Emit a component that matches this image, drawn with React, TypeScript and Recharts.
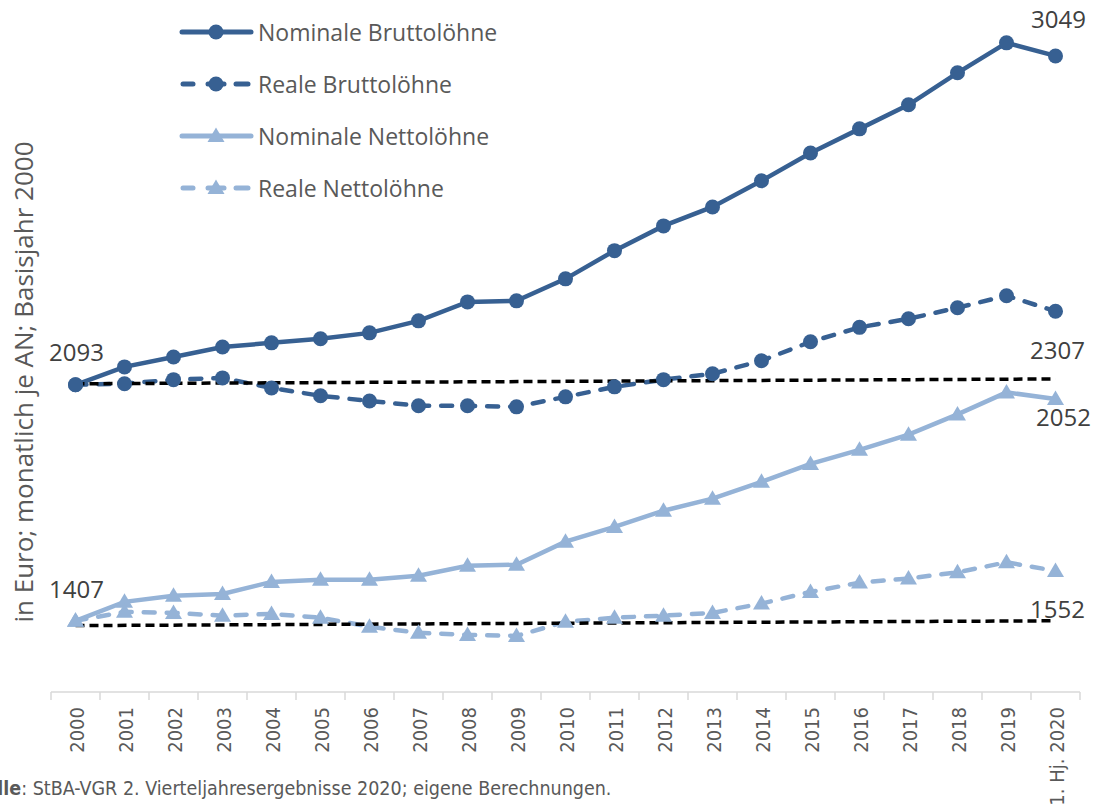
import React from 'react';
import { LineChart, Line, XAxis, YAxis, Legend, LabelList } from 'recharts';

// ---------- data ----------
const categories = [
  '2000', '2001', '2002', '2003', '2004', '2005', '2006', '2007', '2008', '2009',
  '2010', '2011', '2012', '2013', '2014', '2015', '2016', '2017', '2018', '2019', '1. Hj. 2020',
];
const nominaleBrutto = [2093, 2145, 2174, 2203, 2215, 2227, 2244, 2279, 2334, 2337, 2401, 2483, 2555, 2610, 2686, 2767, 2837, 2907, 3000, 3087, 3049];
const realeBrutto = [2093, 2096, 2108, 2113, 2084, 2061, 2046, 2032, 2032, 2029, 2058, 2087, 2108, 2125, 2163, 2218, 2260, 2285, 2317, 2352, 2307];
const nominaleNetto = [1407, 1462, 1480, 1485, 1520, 1526, 1526, 1538, 1567, 1570, 1637, 1680, 1727, 1762, 1811, 1863, 1904, 1948, 2007, 2071, 2052];
const realeNetto = [1407, 1433, 1430, 1422, 1427, 1416, 1390, 1372, 1366, 1363, 1404, 1416, 1422, 1430, 1457, 1491, 1518, 1530, 1548, 1577, 1552];
// black dashed reference levels (start, end)
const basisBrutto = [2096, 2110];
const basisNetto = [1393, 1407];

const seriesNames = {
  nominaleBrutto: 'Nominale Bruttolöhne',
  realeBrutto: 'Reale Bruttolöhne',
  nominaleNetto: 'Nominale Nettolöhne',
  realeNetto: 'Reale Nettolöhne',
};
const yAxisTitle = 'in Euro; monatlich je AN; Basisjahr 2000';
const sourcePrefix = 'Quelle';
const sourceText = ': StBA-VGR 2. Vierteljahresergebnisse 2020; eigene Berechnungen.';

const last = categories.length - 1;
const data = categories.map((cat, i) => ({
  cat,
  nominaleBrutto: nominaleBrutto[i],
  realeBrutto: realeBrutto[i],
  nominaleNetto: nominaleNetto[i],
  realeNetto: realeNetto[i],
  basisBrutto: i === 0 ? basisBrutto[0] : i === last ? basisBrutto[1] : null,
  basisNetto: i === 0 ? basisNetto[0] : i === last ? basisNetto[1] : null,
}));

// ---------- styles ----------
const W = 1095;
const H = 810;
const MARGIN = { top: 4, right: 15, left: 51, bottom: 0 };
const BAND = (W - MARGIN.left - MARGIN.right) / categories.length;
const DARK = '#376092';
const LIGHT = '#95B3D7';
const FONT = '"Open Sans", "Noto Sans", sans-serif';
const NARROW = '"Liberation Sans Narrow", "DejaVu Sans Condensed", "Open Sans", sans-serif';
const TEXT = '#595959';
const LABEL = '#404040';
const DASH = '11 12';

const CircleDot = (props: any) => {
  const { cx, cy, index } = props;
  if (cx == null || cy == null) return <g key={`c-${index}`} />;
  return <circle key={`c-${index}`} cx={cx} cy={cy} r={7.5} fill={DARK} stroke="none" />;
};
const TriangleDot = (props: any) => {
  const { cx, cy, index } = props;
  if (cx == null || cy == null) return <g key={`t-${index}`} />;
  return (
    <path
      key={`t-${index}`}
      d={`M${cx},${cy - 8.5} L${cx + 8.5},${cy + 6} L${cx - 8.5},${cy + 6} Z`}
      fill={LIGHT}
      stroke="none"
    />
  );
};

const XTick = (props: any) => {
  const { x, y, payload, index } = props;
  const half = BAND / 2;
  return (
    <g>
      <line x1={x - half} x2={x - half} y1={y} y2={y + 8} stroke="#d9d9d9" strokeWidth={1.5} />
      {index === categories.length - 1 && (
        <line x1={x + half} x2={x + half} y1={y} y2={y + 8} stroke="#d9d9d9" strokeWidth={1.5} />
      )}
      <text
        transform={`translate(${x + 1},${y + 15}) rotate(-90)`}
        textAnchor="end"
        dy="0.35em"
        fontSize={20}
        fontFamily={NARROW}
        fill={TEXT}
      >
        {payload.value}
      </text>
    </g>
  );
};

// label placement per series: index -> offset of label centre from point
const makeLabel = (spots: Record<number, [number, number]>) => (props: any) => {
  const { x, y, value, index } = props;
  const s = spots[index];
  if (!s || x == null || y == null) return null;
  return (
    <text
      x={x + s[0]}
      y={y + s[1]}
      textAnchor="middle"
      dominantBaseline="central"
      fontSize={24}
      fontFamily={FONT}
      fill={LABEL}
    >
      {value}
    </text>
  );
};

const legendItems = [
  { key: 'nominaleBrutto', color: DARK, dashed: false, shape: 'circle' },
  { key: 'realeBrutto', color: DARK, dashed: true, shape: 'circle' },
  { key: 'nominaleNetto', color: LIGHT, dashed: false, shape: 'triangle' },
  { key: 'realeNetto', color: LIGHT, dashed: true, shape: 'triangle' },
];

const LegendContent = () => (
  <svg width={340} height={215} style={{ overflow: 'visible', display: 'block' }}>
    {legendItems.map((it, i) => {
      const cy = 32 + i * 52;
      const mx = 38;
      return (
        <g key={it.key}>
          {it.dashed ? (
            <g stroke={it.color} strokeWidth={5} strokeLinecap="round">
              <line x1={5} x2={15} y1={cy} y2={cy} />
              <line x1={58} x2={70} y1={cy} y2={cy} />
              <line x1={30} x2={46} y1={cy} y2={cy} />
            </g>
          ) : (
            <line x1={4} x2={73} y1={cy} y2={cy} stroke={it.color} strokeWidth={5} strokeLinecap="round" />
          )}
          {it.shape === 'circle' ? (
            <circle cx={mx} cy={cy} r={7.5} fill={it.color} />
          ) : (
            <path d={`M${mx},${cy - 8.5} L${mx + 8.5},${cy + 6} L${mx - 8.5},${cy + 6} Z`} fill={it.color} />
          )}
          <text x={80} y={cy} dominantBaseline="central" fontSize={23} fontFamily={FONT} fill={TEXT}>
            {(seriesNames as any)[it.key]}
          </text>
        </g>
      );
    })}
  </svg>
);

export default function App() {
  return (
    <div
      style={{
        position: 'absolute',
        left: 0,
        top: 0,
        width: W,
        height: H,
        overflow: 'hidden',
        background: '#fff',
        fontFamily: FONT,
      }}
    >
      <LineChart width={W} height={H} data={data} margin={MARGIN}>
        <XAxis
          dataKey="cat"
          scale="band"
          interval={0}
          height={118}
          tickLine={false}
          tickSize={0}
          tickMargin={0}
          axisLine={{ stroke: '#d9d9d9', strokeWidth: 1.5 }}
          tick={<XTick />}
        />
        <YAxis domain={[1200, 3200]} hide allowDataOverflow />
        <Legend
          layout="vertical"
          align="left"
          verticalAlign="top"
          wrapperStyle={{ left: 178, top: 0, width: 0, height: 0, overflow: 'visible' }}
          content={<LegendContent />}
        />
        <Line
          dataKey="nominaleBrutto"
          name={seriesNames.nominaleBrutto}
          stroke={DARK}
          strokeWidth={4.5}
          dot={<CircleDot />}
          activeDot={false}
          isAnimationActive={false}
        >
          <LabelList dataKey="nominaleBrutto" content={makeLabel({ 0: [1, -33], [last]: [3, -37] })} />
        </Line>
        <Line
          dataKey="realeBrutto"
          name={seriesNames.realeBrutto}
          stroke={DARK}
          strokeWidth={4.5}
          strokeDasharray={DASH}
          strokeLinecap="round"
          dot={<CircleDot />}
          activeDot={false}
          isAnimationActive={false}
        >
          <LabelList dataKey="realeBrutto" content={makeLabel({ [last]: [2, 38] })} />
        </Line>
        <Line
          dataKey="nominaleNetto"
          name={seriesNames.nominaleNetto}
          stroke={LIGHT}
          strokeWidth={4.5}
          dot={<TriangleDot />}
          activeDot={false}
          isAnimationActive={false}
        >
          <LabelList dataKey="nominaleNetto" content={makeLabel({ 0: [1, -32], [last]: [8, 18] })} />
        </Line>
        <Line
          dataKey="realeNetto"
          name={seriesNames.realeNetto}
          stroke={LIGHT}
          strokeWidth={4.5}
          strokeDasharray={DASH}
          strokeLinecap="round"
          dot={<TriangleDot />}
          activeDot={false}
          isAnimationActive={false}
        >
          <LabelList dataKey="realeNetto" content={makeLabel({ [last]: [2, 38] })} />
        </Line>
        <Line
          dataKey="basisBrutto"
          stroke="#000"
          strokeWidth={3.5}
          strokeDasharray="9 5"
          dot={false}
          activeDot={false}
          connectNulls
          legendType="none"
          isAnimationActive={false}
        />
        <Line
          dataKey="basisNetto"
          stroke="#000"
          strokeWidth={3.5}
          strokeDasharray="9 5"
          dot={false}
          activeDot={false}
          connectNulls
          legendType="none"
          isAnimationActive={false}
        />
      </LineChart>
      <svg
        width={50}
        height={H}
        style={{ position: 'absolute', left: 0, top: 0, overflow: 'visible', pointerEvents: 'none' }}
      >
        <text
          transform="translate(23,382) rotate(-90)"
          textAnchor="middle"
          dominantBaseline="central"
          fontSize={26}
          fontFamily={FONT}
          fill={TEXT}
        >
          {yAxisTitle}
        </text>
      </svg>
      <div
        style={{
          position: 'absolute',
          left: -42,
          top: 777,
          whiteSpace: 'nowrap',
          fontFamily: NARROW,
          fontSize: 19.5,
          color: TEXT,
        }}
      >
        <b>{sourcePrefix}</b>
        {sourceText}
      </div>
    </div>
  );
}
